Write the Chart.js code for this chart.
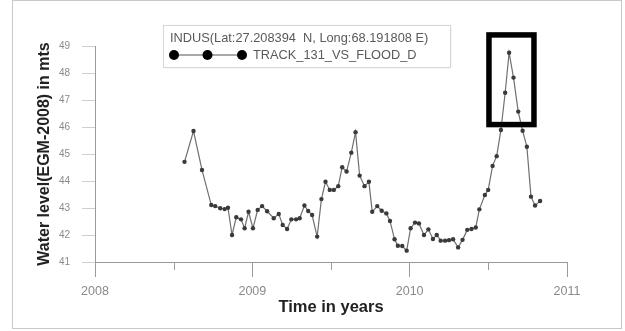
<!DOCTYPE html>
<html>
<head>
<meta charset="utf-8">
<script src="https://cdn.jsdelivr.net/npm/chart.js@4/dist/chart.umd.min.js"></script>
<style>
  html, body { margin: 0; padding: 0; background: #fff; }
  #wrap { width: 625px; height: 331px; }
</style>
</head>
<body>
<div id="wrap"><canvas id="c" width="625" height="331"></canvas></div>
<script>
// Altimetry time series: decimal year of each pass and water level (m, EGM-2008)
const years = [
  2008.569, 2008.626, 2008.680, 2008.739, 2008.764, 2008.796, 2008.824, 2008.845,
  2008.871, 2008.898, 2008.928, 2008.951, 2008.976, 2009.004, 2009.034, 2009.062,
  2009.094, 2009.136, 2009.168, 2009.193, 2009.221, 2009.248, 2009.278, 2009.301,
  2009.331, 2009.355, 2009.380, 2009.412, 2009.439, 2009.465, 2009.492, 2009.518,
  2009.546, 2009.571, 2009.599, 2009.629, 2009.656, 2009.682, 2009.713, 2009.741,
  2009.762, 2009.794, 2009.822, 2009.852, 2009.875, 2009.904, 2009.925, 2009.953,
  2009.981, 2010.006, 2010.034, 2010.059, 2010.091, 2010.119, 2010.148, 2010.172,
  2010.197, 2010.225, 2010.250, 2010.276, 2010.308, 2010.336, 2010.366, 2010.393,
  2010.420, 2010.443, 2010.478, 2010.499, 2010.527, 2010.553, 2010.580, 2010.607,
  2010.632, 2010.660, 2010.690, 2010.718, 2010.745, 2010.771, 2010.797, 2010.829
];
const levels = [
  44.71, 45.85, 44.41, 43.11, 43.07, 42.99, 42.96, 43.01,
  42.00, 42.66, 42.58, 42.25, 42.86, 42.25, 42.93, 43.07,
  42.88, 42.62, 42.78, 42.37, 42.22, 42.58, 42.58, 42.62,
  43.09, 42.89, 42.74, 41.94, 43.33, 43.97, 43.67, 43.67,
  43.81, 44.51, 44.35, 45.05, 45.81, 44.20, 43.81, 43.97,
  42.86, 43.07, 42.90, 42.80, 42.52, 41.84, 41.60, 41.59,
  41.42, 42.25, 42.46, 42.43, 42.00, 42.21, 41.85, 42.00,
  41.79, 41.79, 41.81, 41.84, 41.54, 41.82, 42.19, 42.22,
  42.28, 42.95, 43.48, 43.67, 44.56, 44.92, 45.89, 47.27,
  48.75, 47.83, 46.57, 45.86, 45.27, 43.42, 43.09, 43.26
];

// Axis ticks
const yearTicks = [2008, 2009, 2010, 2011];
const halfYearTicks = [2008.5, 2009.5, 2010.5];
const levelTicks = [41, 42, 43, 44, 45, 46, 47, 48, 49];

// Legend text
const legendTitle = 'INDUS(Lat:27.208394  N, Long:68.191808 E)';
const seriesName = 'TRACK_131_VS_FLOOD_D';

// Highlighted flood peak window (year range, level range)
const peakWindowYears = [2010.504, 2010.79];
const peakWindowLevels = [46.09, 49.41];

const FONT = '"Liberation Sans", Arial, sans-serif';

const frameAndExtras = {
  id: 'frameAndExtras',
  beforeDraw(chart) {
    const ctx = chart.ctx;
    ctx.save();
    ctx.fillStyle = '#fff';
    ctx.fillRect(0, 0, chart.width, chart.height);
    ctx.strokeStyle = '#c8c8c8';
    ctx.lineWidth = 1;
    ctx.strokeRect(12.5, 0.5, 609, 328);
    ctx.restore();
  },
  afterDraw(chart) {
    const ctx = chart.ctx;
    const xs = chart.scales.x, ys = chart.scales.y;
    ctx.save();
    // half-year minor ticks
    ctx.strokeStyle = '#9a9a9a';
    ctx.lineWidth = 1;
    halfYearTicks.forEach(v => {
      const px = Math.round(xs.getPixelForValue(v)) + 0.5;
      ctx.beginPath();
      ctx.moveTo(px, ys.bottom);
      ctx.lineTo(px, ys.bottom + 8);
      ctx.stroke();
    });

    // peak window box
    const x0 = xs.getPixelForValue(peakWindowYears[0]);
    const x1 = xs.getPixelForValue(peakWindowYears[1]);
    const y0 = ys.getPixelForValue(peakWindowLevels[1]);
    const y1 = ys.getPixelForValue(peakWindowLevels[0]);
    ctx.strokeStyle = '#000';
    ctx.lineWidth = 5.5;
    ctx.strokeRect(x0, y0, x1 - x0, y1 - y0);

    // legend box
    const lx = 163.5, ly = 25.5, lw = 287, lh = 42;
    ctx.shadowColor = 'rgba(0,0,0,0.12)';
    ctx.shadowBlur = 3;
    ctx.fillStyle = '#fff';
    ctx.fillRect(lx, ly, lw, lh);
    ctx.shadowColor = 'transparent';
    ctx.strokeStyle = '#d6d6d6';
    ctx.lineWidth = 1;
    ctx.strokeRect(lx, ly, lw, lh);

    ctx.fillStyle = '#5a5a5a';
    ctx.font = '12.8px ' + FONT;
    ctx.textBaseline = 'middle';
    ctx.textAlign = 'left';
    ctx.fillText(legendTitle, 170, 38);

    const my = 55;
    const mx = [174, 207.5, 242];
    ctx.strokeStyle = '#555';
    ctx.lineWidth = 1.2;
    ctx.beginPath();
    ctx.moveTo(mx[0], my);
    ctx.lineTo(mx[2], my);
    ctx.stroke();
    ctx.fillStyle = '#000';
    mx.forEach(x => {
      ctx.beginPath();
      ctx.arc(x, my, 5, 0, Math.PI * 2);
      ctx.fill();
    });
    ctx.fillStyle = '#5a5a5a';
    ctx.fillText(seriesName, 253, my + 0.5);
    ctx.restore();
  }
};

new Chart(document.getElementById('c'), {
  type: 'scatter',
  data: {
    datasets: [{
      label: seriesName,
      data: years.map((t, i) => ({ x: t, y: levels[i] })),
      showLine: true,
      borderColor: '#707070',
      borderWidth: 1.2,
      pointRadius: 2.2,
      pointBackgroundColor: '#3a3a3a',
      pointBorderColor: '#3a3a3a',
      pointBorderWidth: 0,
      tension: 0
    }]
  },
  options: {
    responsive: false,
    animation: false,
    events: [],
    layout: { padding: { left: 0, top: 46, right: 58, bottom: 0 } },
    plugins: { legend: { display: false }, tooltip: { enabled: false } },
    scales: {
      x: {
        type: 'linear',
        min: 2008,
        max: 2011,
        afterBuildTicks: s => { s.ticks = yearTicks.map(v => ({ value: v })); },
        afterFit: s => { s.height = 69; },
        grid: { drawOnChartArea: false, tickLength: 15, tickColor: '#9a9a9a' },
        border: { color: '#9a9a9a', width: 1 },
        ticks: {
          color: '#8a8a8a',
          font: { family: FONT, size: 12.5 },
          padding: 7,
          maxRotation: 0,
          callback: v => String(v)
        },
        title: {
          display: true,
          text: 'Time in years',
          color: '#222',
          font: { family: FONT, size: 16.5, weight: 'bold' },
          padding: { top: 0, bottom: 14 }
        }
      },
      y: {
        min: 41,
        max: 49,
        afterBuildTicks: s => { s.ticks = levelTicks.map(v => ({ value: v })); },
        afterFit: s => { s.width = 95; },
        grid: { drawOnChartArea: false, tickLength: 13, tickColor: '#cfcfcf' },
        border: { color: '#9a9a9a', width: 1 },
        ticks: {
          color: '#8a8a8a',
          font: { family: FONT, size: 10 },
          padding: 12,
          callback: v => String(v)
        },
        title: {
          display: true,
          text: 'Water level(EGM-2008) in mts',
          color: '#222',
          font: { family: FONT, size: 16, weight: 'bold' },
          padding: { top: 35, bottom: 0 }
        }
      }
    }
  },
  plugins: [frameAndExtras]
});
</script>
</body>
</html>
